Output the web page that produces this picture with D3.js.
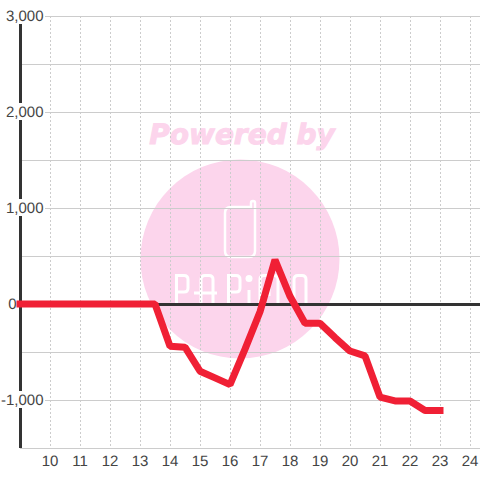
<!DOCTYPE html>
<html>
<head>
<meta charset="utf-8">
<script src="https://cdnjs.cloudflare.com/ajax/libs/d3/7.8.5/d3.min.js"></script>
<style>
  html, body { margin: 0; padding: 0; background: #fff; }
  svg { display: block; }
  text { font-family: "Liberation Sans", Arial, sans-serif; text-rendering: geometricPrecision; }
</style>
</head>
<body>
<div id="chart"></div>
<script>
var hours = [9, 9.5, 10, 10.5, 11, 11.5, 12, 12.5, 13, 13.5, 14, 14.5, 15, 15.5, 16, 16.5, 17, 17.5, 18, 18.5, 19, 19.5, 20, 20.5, 21, 21.5, 22, 22.5, 23];
var values = [0, 0, 0, 0, 0, 0, 0, 0, 0, 0, -440, -450, -700, -770, -840, -470, -80, 460, 80, -200, -200, -350, -490, -540, -970, -1010, -1010, -1110, -1110];
var xTicks = [10, 11, 12, 13, 14, 15, 16, 17, 18, 19, 20, 21, 22, 23, 24];
var yLabels = [3000, 2000, 1000, 0, -1000];
var yGrid = [3000, 2500, 2000, 1500, 1000, 500, -500, -1000, -1500];

var width = 480, height = 480;
var margins = {top: 16, left: 20, right: 0, bottom: 32};

var x = d3.scaleLinear().domain([9, 24.3333]).range([margins.left, width]);
var y = d3.scaleLinear().domain([3000, -1500]).range([margins.top, height - margins.bottom]);

var svg = d3.select('#chart').append('svg')
    .attr('width', width)
    .attr('height', height);

// watermark sits under the grid
var wm = svg.append('g').attr('class', 'watermark');
wm.append('circle')
    .attr('cx', 240).attr('cy', 259).attr('r', 99.5)
    .attr('fill', '#fcd5ec');
wm.append('text')
    .attr('x', 242).attr('y', 144)
    .attr('text-anchor', 'middle')
    .style('font-family', '"DejaVu Sans"')
    .style('font-weight', 'bold')
    .style('font-style', 'italic')
    .style('font-size', '28px')
    .attr('fill', '#fcd5ec')
    .attr('stroke', '#fcd5ec')
    .attr('stroke-width', 1)
    .text('Powered by');
wm.append('path')
    .attr('d', 'M231 207 H251 V203 Q251 201 253 201 Q255 201 255 203 V251 Q255 257 249 257 H231 Q225 257 225 251 V213 Q225 207 231 207 Z')
    .attr('fill', 'none')
    .attr('stroke', '#fff')
    .attr('stroke-width', 2.5);

// logo lettering, hand drawn like the original
var logoStrokes = [
  'M176.500 304 V275.500 H184 Q188 275.500 188 279.500 V288 Q188 292 184 292 H176.500',
  'M194 293 H217 M201 304 V279.500 Q201 275.500 205 275.500 H209 Q213 275.500 213 279.500 V304',
  'M228.500 304 V275.500 H236 Q240 275.500 240 279.500 V288 Q240 292 236 292 H228.500',
  'M249 304 V290',
  'M260 304 V279.500 Q260 275.500 264 275.500 H274 Q278 275.500 278 279.500 V304 M269 276 V296',
  'M294 304 V279.500 Q294 275.500 298 275.500 H302 Q306 275.500 306 279.500 V304'
];
wm.append('g')
    .attr('aria-label', 'PAPiMO')
    .selectAll('path').data(logoStrokes).enter().append('path')
    .attr('d', function(d) { return d; })
    .attr('fill', 'none')
    .attr('stroke', '#fff')
    .attr('stroke-width', 3);
wm.append('circle')
    .attr('cx', 249).attr('cy', 278.500).attr('r', 3.500)
    .attr('fill', '#fff');

var grid = svg.append('g').attr('class', 'grid');
grid.selectAll('line.h').data(yGrid).enter().append('line')
    .attr('class', 'h')
    .attr('x1', margins.left).attr('x2', width)
    .attr('y1', function(d) { return Math.round(y(d)) + 0.5; })
    .attr('y2', function(d) { return Math.round(y(d)) + 0.5; })
    .attr('stroke', '#ccc')
    .attr('stroke-width', 1);
grid.selectAll('line.v').data(xTicks).enter().append('line')
    .attr('class', 'v')
    .attr('x1', function(d) { return Math.round(x(d)) + 0.5; })
    .attr('x2', function(d) { return Math.round(x(d)) + 0.5; })
    .attr('y1', margins.top).attr('y2', height - margins.bottom)
    .attr('stroke', '#ccc')
    .attr('stroke-dasharray', '2,2');

// zero line and left axis
svg.append('line')
    .attr('x1', margins.left).attr('x2', width)
    .attr('y1', y(0) + 0.5).attr('y2', y(0) + 0.5)
    .attr('stroke', '#333').attr('stroke-width', 3);
svg.append('line')
    .attr('x1', margins.left + 0.5).attr('x2', margins.left + 0.5)
    .attr('y1', margins.top).attr('y2', height - margins.bottom)
    .attr('stroke', '#333').attr('stroke-width', 3);

// y labels have a white box that breaks the axis line, the 0 sits left of the axis
var fmt = function(d) { return d3.format(',')(d).replace('\u2212', '-'); };
var labelRight = function(d) { return d === 0 ? 16.5 : 43.5; };
var yLab = svg.append('g').attr('class', 'y-labels');
yLab.selectAll('rect').data(yLabels.filter(function(d) { return d !== 0; })).enter().append('rect')
    .attr('x', 4)
    .attr('y', function(d) { return y(d) - 9; })
    .attr('width', 41)
    .attr('height', 17)
    .attr('fill', '#fff');
yLab.selectAll('text').data(yLabels).enter().append('text')
    .attr('x', labelRight)
    .attr('y', function(d) { return y(d) + 5; })
    .attr('text-anchor', 'end')
    .attr('fill', '#444')
    .style('font-size', '15px')
    .text(fmt);

svg.append('g').attr('class', 'x-labels')
    .selectAll('text').data(xTicks).enter().append('text')
    .attr('x', function(d) { return x(d); })
    .attr('y', 466)
    .attr('text-anchor', 'middle')
    .attr('fill', '#444')
    .style('font-size', '15px')
    .text(function(d) { return d; });

var line = d3.line()
    .x(function(d, i) { return x(hours[i]); })
    .y(function(d) { return y(d); });

svg.append('path')
    .datum(values)
    .attr('d', line)
    .attr('fill', 'none')
    .attr('stroke', '#f02035')
    .attr('stroke-width', 7)
    .attr('stroke-linejoin', 'bevel')
    .attr('stroke-linecap', 'square');
</script>
</body>
</html>
